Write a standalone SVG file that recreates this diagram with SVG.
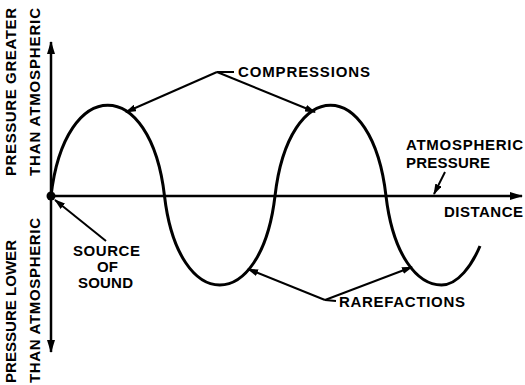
<svg xmlns="http://www.w3.org/2000/svg" width="525" height="385" viewBox="0 0 525 385">
  <defs>
    <marker id="ah" markerUnits="userSpaceOnUse" markerWidth="11" markerHeight="7" refX="10" refY="3.5" orient="auto">
      <path d="M0,0 L11,3.5 L0,7 z" fill="#000"/>
    </marker>
    <marker id="axh" markerUnits="userSpaceOnUse" markerWidth="13" markerHeight="8" refX="12" refY="4" orient="auto">
      <path d="M0,0 L13,4 L0,8 z" fill="#000"/>
    </marker>
  </defs>
  <style>
    text { font-family: "Liberation Sans", Arial, sans-serif; font-weight: bold; font-size: 15px; fill: #000; }
    .lead { stroke: #000; stroke-width: 2; fill: none; }
    .axis { stroke: #000; stroke-width: 2.5; fill: none; }
    .wave { stroke: #000; stroke-width: 3; fill: none; }
  </style>
  <rect width="525" height="385" fill="#fff"/>

  <g id="axes">
    <line class="axis" x1="51" y1="196" x2="51" y2="42" marker-end="url(#axh)"/>
    <line class="axis" x1="51" y1="196" x2="51" y2="352" marker-end="url(#axh)"/>
    <line class="axis" x1="51" y1="196" x2="522" y2="196" marker-end="url(#axh)"/>
    <circle cx="51" cy="196" r="4.5" fill="#000"/>
  </g>

  <g id="wave">
    <path class="wave" d="M51,196 C65,75 150.5,75 164.5,196 C178.5,314.7 261,314.7 275,196 C289,75 372,75 386,196 C393,255.4 417.25,285 441.5,285 C458,285 472,265 480,246"/>
  </g>

  <g id="connectors">
    <line class="lead" x1="217" y1="72" x2="234" y2="72"/>
    <line class="lead" x1="217" y1="72" x2="126" y2="112" marker-end="url(#ah)"/>
    <line class="lead" x1="217" y1="72" x2="315" y2="112" marker-end="url(#ah)"/>
    <line class="lead" x1="445" y1="172" x2="434" y2="194" marker-end="url(#ah)"/>
    <line class="lead" x1="106" y1="241" x2="55" y2="200" marker-end="url(#ah)"/>
    <line class="lead" x1="325" y1="300" x2="336" y2="301"/>
    <line class="lead" x1="325" y1="300" x2="248" y2="269" marker-end="url(#ah)"/>
    <line class="lead" x1="325" y1="300" x2="412" y2="267" marker-end="url(#ah)"/>
  </g>

  <g id="label-compressions">
    <text x="238" y="77" textLength="132" lengthAdjust="spacing">COMPRESSIONS</text>
  </g>
  <g id="label-atmospheric">
    <text x="406" y="150" textLength="117" lengthAdjust="spacing">ATMOSPHERIC</text>
    <text x="406" y="168" textLength="84" lengthAdjust="spacing">PRESSURE</text>
  </g>
  <g id="label-distance">
    <text x="444" y="217" textLength="79" lengthAdjust="spacing">DISTANCE</text>
  </g>
  <g id="label-source">
    <text x="73" y="256" textLength="67" lengthAdjust="spacing">SOURCE</text>
    <text x="97" y="272" textLength="21" lengthAdjust="spacing">OF</text>
    <text x="78" y="288" textLength="55" lengthAdjust="spacing">SOUND</text>
  </g>
  <g id="label-rarefactions">
    <text x="339" y="307" textLength="126" lengthAdjust="spacing">RAREFACTIONS</text>
  </g>
  <g id="label-greater">
    <text transform="translate(16,176) rotate(-90)" textLength="168" lengthAdjust="spacing">PRESSURE GREATER</text>
    <text transform="translate(40,176) rotate(-90)" textLength="168" lengthAdjust="spacing">THAN ATMOSPHERIC</text>
  </g>
  <g id="label-lower">
    <text transform="translate(16,383) rotate(-90)" textLength="143" lengthAdjust="spacing">PRESSURE LOWER</text>
    <text transform="translate(40,383) rotate(-90)" textLength="165" lengthAdjust="spacing">THAN ATMOSPHERIC</text>
  </g>
</svg>
